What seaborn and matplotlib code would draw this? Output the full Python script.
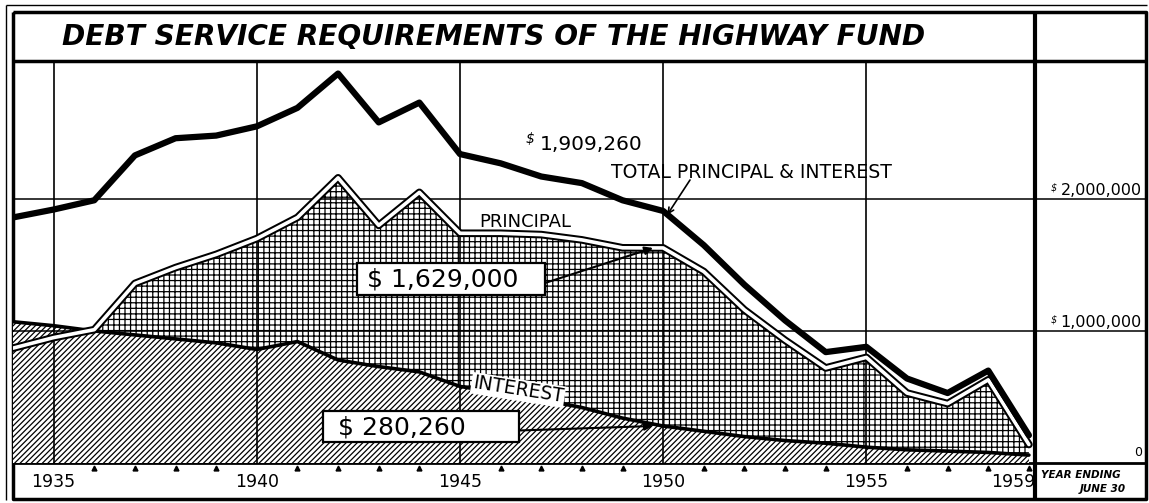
import matplotlib
matplotlib.use("Agg")
import matplotlib.pyplot as plt
import seaborn as sns
import numpy as np

# values (dollars), fiscal years ending June 30
years = [1934, 1935, 1936, 1937, 1938, 1939, 1940, 1941, 1942, 1943, 1944, 1945, 1946,
         1947, 1948, 1949, 1950, 1951, 1952, 1953, 1954, 1955, 1956, 1957, 1958, 1959]
total = [1.86, 1.92, 1.99, 2.33, 2.46, 2.48, 2.55, 2.69, 2.95, 2.58, 2.73, 2.34, 2.27,
         2.17, 2.12, 1.99, 1.909, 1.65, 1.35, 1.08, 0.84, 0.88, 0.64, 0.53, 0.70, 0.21]
principal = [0.87, 0.95, 1.01, 1.36, 1.48, 1.58, 1.70, 1.86, 2.16, 1.80, 2.05, 1.74, 1.74,
             1.73, 1.69, 1.63, 1.629, 1.45, 1.16, 0.93, 0.72, 0.80, 0.53, 0.45, 0.63, 0.14]
interest = [1.07, 1.04, 1.00, 0.97, 0.94, 0.91, 0.86, 0.92, 0.78, 0.73, 0.69, 0.58, 0.53,
            0.48, 0.42, 0.34, 0.28026, 0.24, 0.20, 0.17, 0.15, 0.12, 0.10, 0.09, 0.08, 0.06]
total = np.array(total) * 1e6
principal = np.array(principal) * 1e6
interest = np.array(interest) * 1e6

year_labels = [1935, 1940, 1945, 1950, 1955]
minor_years = [1936, 1937, 1938, 1939, 1941, 1942, 1943, 1944, 1946, 1947, 1948, 1949,
               1951, 1952, 1953, 1954, 1956, 1957, 1958, 1959]
y_labels = {2e6: "2,000,000", 1e6: "1,000,000"}

sns.set_style("white")
plt.rcParams["font.family"] = ["DejaVu Sans"]
plt.rcParams["text.color"] = "black"
plt.rcParams["hatch.linewidth"] = 0.9
plt.rcParams["hatch.color"] = "black"

W, H = 1149, 503
fig = plt.figure(figsize=(W / 100, H / 100), dpi=100)

# background frame drawn in pixel coordinates
bg = fig.add_axes([0, 0, 1, 1], zorder=0)
bg.set_xlim(0, W)
bg.set_ylim(H, 0)
bg.axis("off")
k = dict(color="black", solid_capstyle="butt")
bg.plot([6, 6], [5, 500], lw=1, **k)
bg.plot([6, 1147], [5, 5], lw=1, **k)
bg.plot([13, 1146, 1146, 13, 13], [12, 12, 499, 499, 12], lw=2.5, **k)
bg.plot([13, 1146], [61, 61], lw=2.5, **k)
bg.plot([1035, 1035], [12, 499], lw=3, **k)
bg.plot([13, 1146], [463, 463], lw=2, **k)
bg.text(62, 37, "DEBT SERVICE REQUIREMENTS OF THE HIGHWAY FUND", ha="left", va="center",
        fontsize=20.2, fontweight="bold", fontstyle="italic")
bg.text(1041, 475, "YEAR ENDING", ha="left", va="center", fontsize=7.5,
        fontweight="bold", fontstyle="italic")
bg.text(1126, 489, "JUNE 30", ha="right", va="center", fontsize=7.5,
        fontweight="bold", fontstyle="italic")

ax = fig.add_axes([13 / W, (H - 463) / H, 1022 / W, 402 / H], zorder=1)
ax.patch.set_visible(False)
ax.set_xlim(1934, 1959.15)
ax.set_ylim(0, 3.045e6)
sns.despine(ax=ax, left=True, bottom=True)
ax.set_xticks([])
ax.set_yticks([])

# hatched areas
ax.fill_between(years, 0, principal, facecolor="white", edgecolor="black",
                hatch="+++", linewidth=0, zorder=1)
ax.fill_between(years, 0, interest, facecolor="white", edgecolor="black",
                hatch="//////", linewidth=0, zorder=1.5)

# grid
for yr in year_labels:
    ax.axvline(yr, color="black", lw=1.2, zorder=2)
yt = ax.get_yaxis_transform()
for val, lab in y_labels.items():
    ax.axhline(val, xmin=0, xmax=(1146 - 13) / 1022, color="black", lw=1.1,
               clip_on=False, zorder=2)
    ax.text(1.1045, val + 0.01e6, lab, transform=yt, ha="right", va="bottom", fontsize=11.5)
    ax.text(1.0215, val + 0.05e6, "$", transform=yt, ha="right", va="bottom",
            fontsize=7, fontstyle="italic")
ax.text(1.1045, 0.03e6, "0", transform=yt, ha="right", va="bottom", fontsize=9)

# lines
sns.lineplot(x=years, y=principal, ax=ax, color="black", lw=5.5, zorder=4)
sns.lineplot(x=years, y=principal, ax=ax, color="white", lw=2.6, zorder=4.1)
sns.lineplot(x=years, y=interest, ax=ax, color="black", lw=2.6, zorder=4)
sns.lineplot(x=years, y=total, ax=ax, color="black", lw=4.5, zorder=5)

# x axis labels and triangle ticks
xt = ax.get_xaxis_transform()
for yr in year_labels:
    ax.text(yr, -0.047, str(yr), transform=xt, ha="center", va="center", fontsize=12.5)
ax.text(1959.15, -0.047, "1959", transform=xt, ha="right", va="center", fontsize=12.5)
ax.plot(minor_years, [-0.012] * len(minor_years), transform=xt, ls="none", marker="^",
        ms=3.5, color="black", clip_on=False)

# labels on an overlay in pixel coordinates, arrows point to data
top = fig.add_axes([0, 0, 1, 1], zorder=2)
top.set_xlim(0, W)
top.set_ylim(H, 0)
top.axis("off")

top.text(591, 145, "1,909,260", ha="center", va="center", fontsize=14.5)
top.text(530, 139, "$", ha="center", va="center", fontsize=10, fontstyle="italic")
top.text(751, 172, "TOTAL PRINCIPAL & INTEREST", ha="center", va="center", fontsize=13.6)
top.annotate("", xy=(1950.1, 1.88e6), xycoords=ax.transData, xytext=(690, 180),
             textcoords="data",
             arrowprops=dict(arrowstyle="->", lw=1.2, color="black", shrinkA=0, shrinkB=0))
top.text(525, 222, "PRINCIPAL", ha="center", va="center", fontsize=13)
top.text(518, 390, "INTEREST", ha="center", va="center", fontsize=13.5, rotation=-9,
         bbox=dict(facecolor="white", edgecolor="none", pad=1.0))

arrow = dict(arrowstyle="-|>", lw=1.5, color="black", mutation_scale=12, shrinkA=0, shrinkB=0)
boxes = [("$ 1,629,000", (357, 263, 545, 295), 367, principal[16]),
         ("$ 280,260", (323, 411, 519, 442), 338, interest[16])]
for label, (x0, y0, x1, y1), tx, target in boxes:
    top.add_patch(plt.Rectangle((x0, y0), x1 - x0, y1 - y0, facecolor="white",
                                edgecolor="black", lw=1.6))
    top.text(tx, (y0 + y1) / 2 + 1, label, ha="left", va="center", fontsize=18)
    top.annotate("", xy=(1949.75, target), xycoords=ax.transData,
                 xytext=(x1, (y0 + y1) / 2 + 4), textcoords="data", arrowprops=arrow)

fig.savefig("out.png", dpi=100)
